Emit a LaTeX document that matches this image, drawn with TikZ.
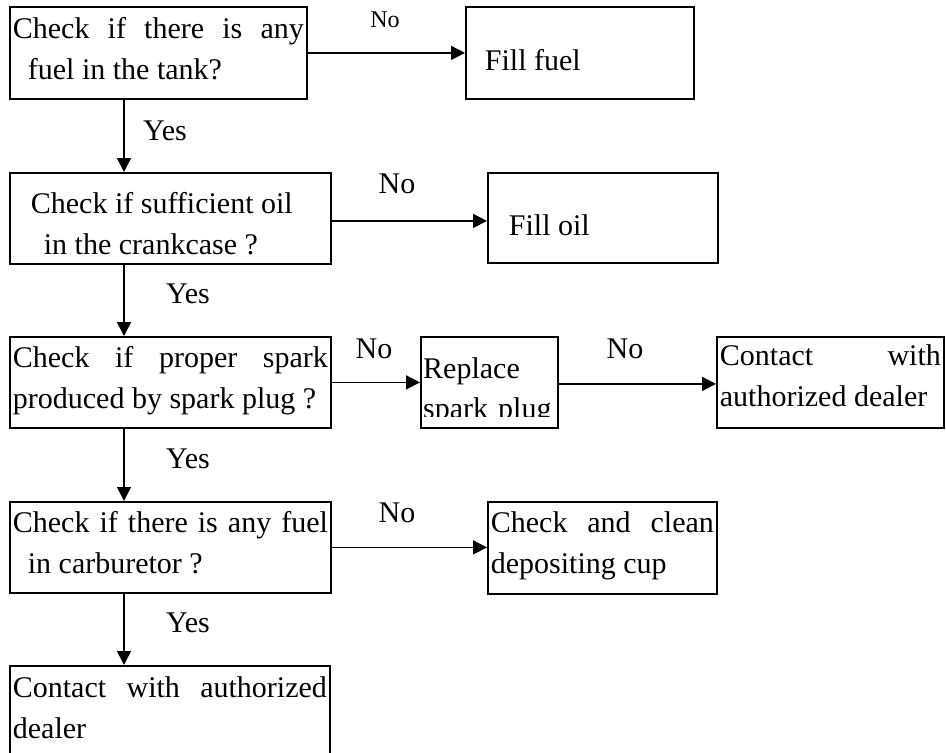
\documentclass[tikz,border=0pt]{standalone}
\usepackage{fontspec}
\setmainfont{Liberation Serif}
\usetikzlibrary{arrows.meta}
\tolerance=10000
\hbadness=10000
\adjdemerits=0
\begin{document}
\begin{tikzpicture}[x=1pt,y=-1pt,
  box/.style={draw, line width=1.8pt, inner xsep=3pt, inner ysep=0pt, anchor=north west,
    align=justify, font=\fontsize{30}{41}\selectfont},
  lbl/.style={anchor=base, inner sep=0pt, font=\fontsize{30}{36}\selectfont},
  smalllbl/.style={anchor=base, inner sep=0pt, font=\fontsize{24}{29}\selectfont},
  arr/.style={line width=1.5pt, -{Triangle[length=14pt,width=14pt]}}]
\fill[white] (0,0) rectangle (946,753);
\useasboundingbox (0,0) rectangle (946,753);

% boxes
\node[box, text width=291pt, text height=32pt, text depth=60pt] (A) at (9,6)
  {Check if there is any\linebreak\hspace*{15pt}fuel in the tank?};
\node[box, text width=222pt, text height=64pt, text depth=28pt] (FF) at (465,6)
  {\hspace*{16pt}Fill fuel};
\node[box, text width=315pt, text height=41pt, text depth=50pt] (B) at (9,172)
  {\hspace*{18pt}Check if sufficient oil\hfill\break\hspace*{31pt}in the crankcase ?};
\node[box, text width=224pt, text height=63pt, text depth=27pt] (FO) at (487,172)
  {\hspace*{18pt}Fill oil};
\node[box, text width=315pt, text height=31pt, text depth=60pt] (C) at (9,336)
  {Check if proper spark\linebreak produced by spark plug ?};
\node[box, text width=131pt, text height=42pt, text depth=49pt] (R) at (420,336) {};
\begin{scope}
  \clip (R.north west) rectangle ([yshift=12pt]R.south east);
  \node[anchor=base west, inner sep=0pt, text width=131pt, align=left,
    font=\fontsize{30}{40}\selectfont] (Rtxt) at (423,378) {Replace\\spark plug};
\end{scope}
\node[box, text width=221pt, text height=29pt, text depth=62pt] (CD) at (716,336)
  {Contact with\linebreak authorized dealer};
\node[box, text width=315pt, text height=31pt, text depth=60pt] (D) at (9,501)
  {Check if there is any fuel\linebreak\hspace*{15pt}in carburetor ?};
\node[box, text width=223pt, text height=31pt, text depth=61pt] (E) at (487,501)
  {Check and clean\linebreak depositing cup};
\node[box, text width=314pt, text height=32pt, text depth=63pt] (F) at (9,665)
  {Contact with authorized\linebreak dealer};

% connectors
\draw[arr] ([xshift=115pt]A.south west) -- ([xshift=115pt]B.north west);
\draw[arr] ([xshift=115pt]B.south west) -- ([xshift=115pt]C.north west);
\draw[arr] ([xshift=115pt]C.south west) -- ([xshift=115pt]D.north west);
\draw[arr] ([xshift=115pt]D.south west) -- ([xshift=115pt]F.north west);
\draw[arr] (A.east) -- (A.east -| FF.west);
\draw[arr] ([yshift=-2.5pt]B.east) -- ([yshift=-2.5pt]B.east -| FO.west);
\draw[arr] (C.east) -- (C.east -| R.west);
\draw[arr] ([yshift=-1.5pt]R.east) -- ([yshift=-1.5pt]R.east -| CD.west);
\draw[arr] (D.east) -- (D.east -| E.west);

% labels
\node[smalllbl] (no1) at (385,27) {No};
\node[lbl] (yes1) at (165,140) {Yes};
\node[lbl] (no2) at (397,193) {No};
\node[lbl] (yes2) at (188,303) {Yes};
\node[lbl] (no3) at (374,358) {No};
\node[lbl] (no4) at (625,358) {No};
\node[lbl] (yes3) at (188,468) {Yes};
\node[lbl] (no5) at (397,522) {No};
\node[lbl] (yes4) at (188,632) {Yes};
\end{tikzpicture}
\end{document}
